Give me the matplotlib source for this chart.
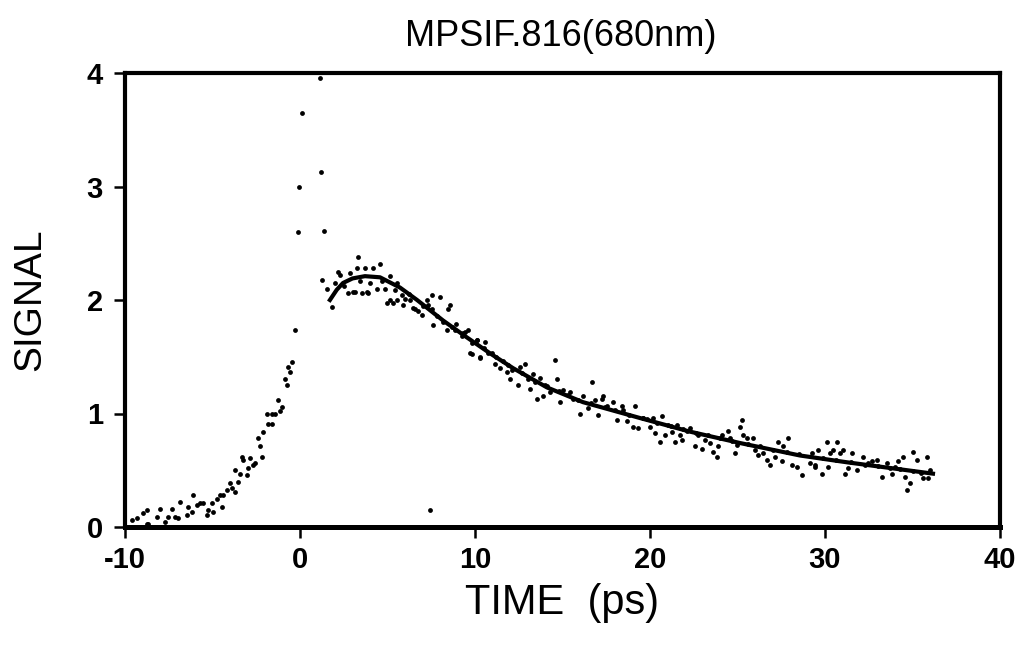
import matplotlib
matplotlib.use("Agg")
import matplotlib.pyplot as plt

title = "MPSIF.816(680nm)"
x_label = "TIME  (ps)"
y_label = "SIGNAL"
x_ticks = [-10, 0, 10, 20, 30, 40]
y_ticks = [0, 1, 2, 3, 4]

# rising edge (measured points)
rise_t = [-9.62, -9.33, -8.95, -8.76, -8.67, -8.76, -8.19, -8.0, -7.71, -7.52, -7.33, -7.14, -6.95,
          -6.86, -6.48, -6.38, -6.19, -6.10, -5.90, -5.71, -5.52, -5.33, -5.24, -5.05, -4.95,
          -4.76, -4.57, -4.38, -4.48, -4.19, -4.0, -3.90, -3.71, -3.71, -3.52, -3.43, -3.33,
          -3.24, -3.05, -2.95, -2.86, -2.67, -2.57, -2.38, -2.29, -2.19, -2.10, -1.90, -1.81,
          -1.62, -1.62, -1.43, -1.24, -1.14, -1.05, -0.86, -0.76, -0.69, -0.57, -0.46, -0.29,
          -0.11, -0.06, 0.11, 1.14, 1.20, 1.37, 7.43]
rise_y = [0.06, 0.08, 0.12, 0.15, 0.03, 0.03, 0.09, 0.16, 0.04, 0.09, 0.16, 0.09, 0.08,
          0.22, 0.11, 0.18, 0.13, 0.28, 0.19, 0.21, 0.21, 0.11, 0.15, 0.21, 0.13,
          0.25, 0.28, 0.28, 0.18, 0.33, 0.39, 0.34, 0.31, 0.50, 0.40, 0.47, 0.62,
          0.59, 0.46, 0.52, 0.61, 0.55, 0.56, 0.78, 0.71, 0.62, 0.84, 1.00, 0.91,
          0.91, 1.00, 1.00, 1.12, 1.02, 1.06, 1.30, 1.25, 1.41, 1.37, 1.45, 1.74,
          2.60, 3.00, 3.65, 3.96, 3.13, 2.61, 0.15]

# decay (measured points)
decay_t = [1.24, 1.52, 1.81, 2.00, 2.19, 2.29, 2.76, 2.86, 3.05, 3.14, 3.24, 3.33, 3.52, 3.71,
           3.81, 3.90, 4.00, 4.19, 4.38, 4.57, 4.86, 4.95, 5.14, 5.14, 5.33, 5.52, 5.52, 5.81,
           5.90, 6.00, 6.29, 6.48, 6.57, 6.76, 6.95, 7.24, 7.33, 7.52, 7.52, 7.62, 8.00, 8.19,
           8.38, 8.48, 8.57, 8.67, 8.86, 9.24, 9.43, 9.62, 9.81, 9.81, 10.10, 10.29,
           9.71, 10.10, 10.57, 10.29, 10.76, 10.95, 11.14, 11.43, 11.62, 11.81, 12.00, 12.10,
           12.48, 12.57, 12.86, 13.05, 13.14, 13.33, 13.52, 13.71, 13.90, 14.10, 14.29, 14.57,
           14.67, 14.86, 15.05, 15.43, 15.62, 16.00, 16.19, 16.48, 16.67, 16.86, 17.05, 17.24,
           17.33, 17.52, 17.90, 18.10, 18.38, 18.48, 18.67, 19.05, 19.14, 19.33, 19.62,
           19.62, 20.00, 20.19, 20.29, 20.57, 20.67, 20.86, 21.05, 21.24, 21.43, 21.52, 21.71,
           21.81, 22.10, 22.29, 22.57, 22.76, 22.95, 23.14, 23.43, 23.62, 23.81, 23.90, 24.10,
           24.48, 24.57, 24.86, 24.95, 25.14, 25.24, 25.33, 25.52, 25.90, 26.00, 26.19, 26.48,
           26.67, 26.86, 27.14, 27.33, 27.52, 27.62, 27.90, 28.10, 28.38, 28.67, 29.14, 29.43,
           29.24, 29.43, 29.81, 29.62, 30.10, 30.19, 30.29, 30.48, 30.67, 30.86, 31.05, 31.14,
           31.33, 31.52, 31.81, 32.19, 32.48, 32.67, 32.95, 33.24, 33.52, 33.81, 34.00, 34.19,
           34.48, 34.57, 34.67, 34.86, 35.05, 35.24, 35.62, 35.81, 35.90, 36.00,
           2.5, 3.4, 4.7, 5.4, 6.2, 7.0, 7.8, 8.9, 9.3, 10.5, 11.2, 11.9, 12.7, 13.4, 14.0,
           14.8, 15.3, 15.9, 16.6, 17.4, 18.0, 18.8, 19.8, 20.4, 21.2, 21.9, 22.6, 23.3,
           24.0, 24.7, 25.6, 26.3, 27.0, 27.8, 28.5, 29.9, 30.6, 31.5, 32.3, 33.0, 33.7,
           34.3, 35.0, 35.5]
decay_y = [2.18, 2.10, 1.94, 2.15, 2.25, 2.22, 2.06, 2.24, 2.07, 2.07, 2.28, 2.38, 2.06, 2.28,
           2.07, 2.06, 2.15, 2.28, 2.10, 2.32, 2.10, 1.97, 2.00, 2.21, 1.97, 2.15, 2.00, 2.04,
           1.96, 2.01, 2.00, 1.93, 1.92, 1.90, 1.87, 2.00, 1.96, 2.04, 1.92, 1.78, 2.03, 1.81,
           1.74, 1.92, 1.96, 1.76, 1.74, 1.68, 1.72, 1.74, 1.52, 1.62, 1.65, 1.50,
           1.53, 1.65, 1.63, 1.49, 1.53, 1.53, 1.44, 1.40, 1.46, 1.37, 1.30, 1.38,
           1.25, 1.41, 1.44, 1.30, 1.22, 1.35, 1.13, 1.31, 1.15, 1.24, 1.19, 1.47,
           1.30, 1.10, 1.21, 1.19, 1.13, 1.00, 1.15, 1.05, 1.28, 1.12, 0.99, 1.13,
           1.15, 1.07, 1.10, 0.94, 1.07, 1.03, 0.93, 0.88, 1.07, 0.87, 0.96,
           0.96, 0.88, 0.96, 0.83, 0.75, 0.98, 0.81, 0.90, 0.84, 0.75, 0.90, 0.81,
           0.77, 0.85, 0.87, 0.71, 0.81, 0.69, 0.77, 0.74, 0.66, 0.62, 0.71, 0.81,
           0.85, 0.78, 0.65, 0.72, 0.88, 0.94, 0.81, 0.78, 0.78, 0.68, 0.63, 0.65,
           0.59, 0.55, 0.62, 0.75, 0.58, 0.71, 0.78, 0.55, 0.53, 0.46, 0.56, 0.55,
           0.65, 0.53, 0.47, 0.68, 0.75, 0.53, 0.65, 0.68, 0.75, 0.65, 0.68, 0.47,
           0.52, 0.65, 0.50, 0.62, 0.56, 0.58, 0.59, 0.44, 0.56, 0.47, 0.53, 0.58,
           0.62, 0.44, 0.33, 0.39, 0.66, 0.59, 0.43, 0.62, 0.43, 0.50,
           2.12, 2.17, 2.17, 2.09, 2.05, 1.95, 1.86, 1.79, 1.71, 1.58, 1.50, 1.43, 1.36, 1.28, 1.25,
           1.20, 1.16, 1.12, 1.09, 1.06, 1.03, 0.99, 0.95, 0.92, 0.89, 0.86, 0.83, 0.81,
           0.78, 0.76, 0.73, 0.71, 0.68, 0.66, 0.64, 0.61, 0.59, 0.57, 0.55, 0.54, 0.52,
           0.51, 0.49, 0.48]

# fitted curve
fit_t = [1.71, 2.10, 2.46, 3.00, 3.71, 4.57, 5.71, 6.69, 8.17, 9.54, 10.86, 12.17, 14.11,
         16.17, 19.43, 22.29, 25.14, 28.57, 31.26, 36.17]
fit_y = [2.00, 2.09, 2.15, 2.19, 2.21, 2.20, 2.11, 2.00, 1.82, 1.67, 1.53, 1.40, 1.23,
         1.10, 0.96, 0.84, 0.74, 0.63, 0.57, 0.47]

plt.rcParams['font.family'] = ['Liberation Sans', 'DejaVu Sans']
plt.rcParams['axes.unicode_minus'] = False

fig = plt.figure(figsize=(10.24, 6.47), dpi=100)
ax = fig.add_axes([125/1024, 1 - 527/647, 875/1024, 454/647])

ax.scatter(rise_t, rise_y, s=12, color='black', linewidths=0)
ax.scatter(decay_t, decay_y, s=12, color='black', linewidths=0)
ax.plot(fit_t, fit_y, color='black', linewidth=3)

ax.set_xlim(-10, 40)
ax.set_ylim(0, 4)
ax.set_xticks(x_ticks)
ax.set_yticks(y_ticks)
ax.tick_params(direction='out', length=8, width=1.8, labelsize=21)
ax.tick_params(axis='x', pad=6)
ax.tick_params(axis='y', pad=8)
for lab in ax.get_xticklabels() + ax.get_yticklabels():
    lab.set_fontweight('bold')
for sp in ax.spines.values():
    sp.set_linewidth(3)
ax.spines['bottom'].set_linewidth(3.6)

fig.text(561/1024, 1 - 36/647, title, fontsize=26, ha='center', va='center')
fig.text(562/1024, 1 - 603/647, x_label, fontsize=30, ha='center', va='center')
fig.text(30/1024, 1 - 300/647, y_label, fontsize=28, ha='center', va='center', rotation=90)

fig.savefig("out.png", dpi=100)
